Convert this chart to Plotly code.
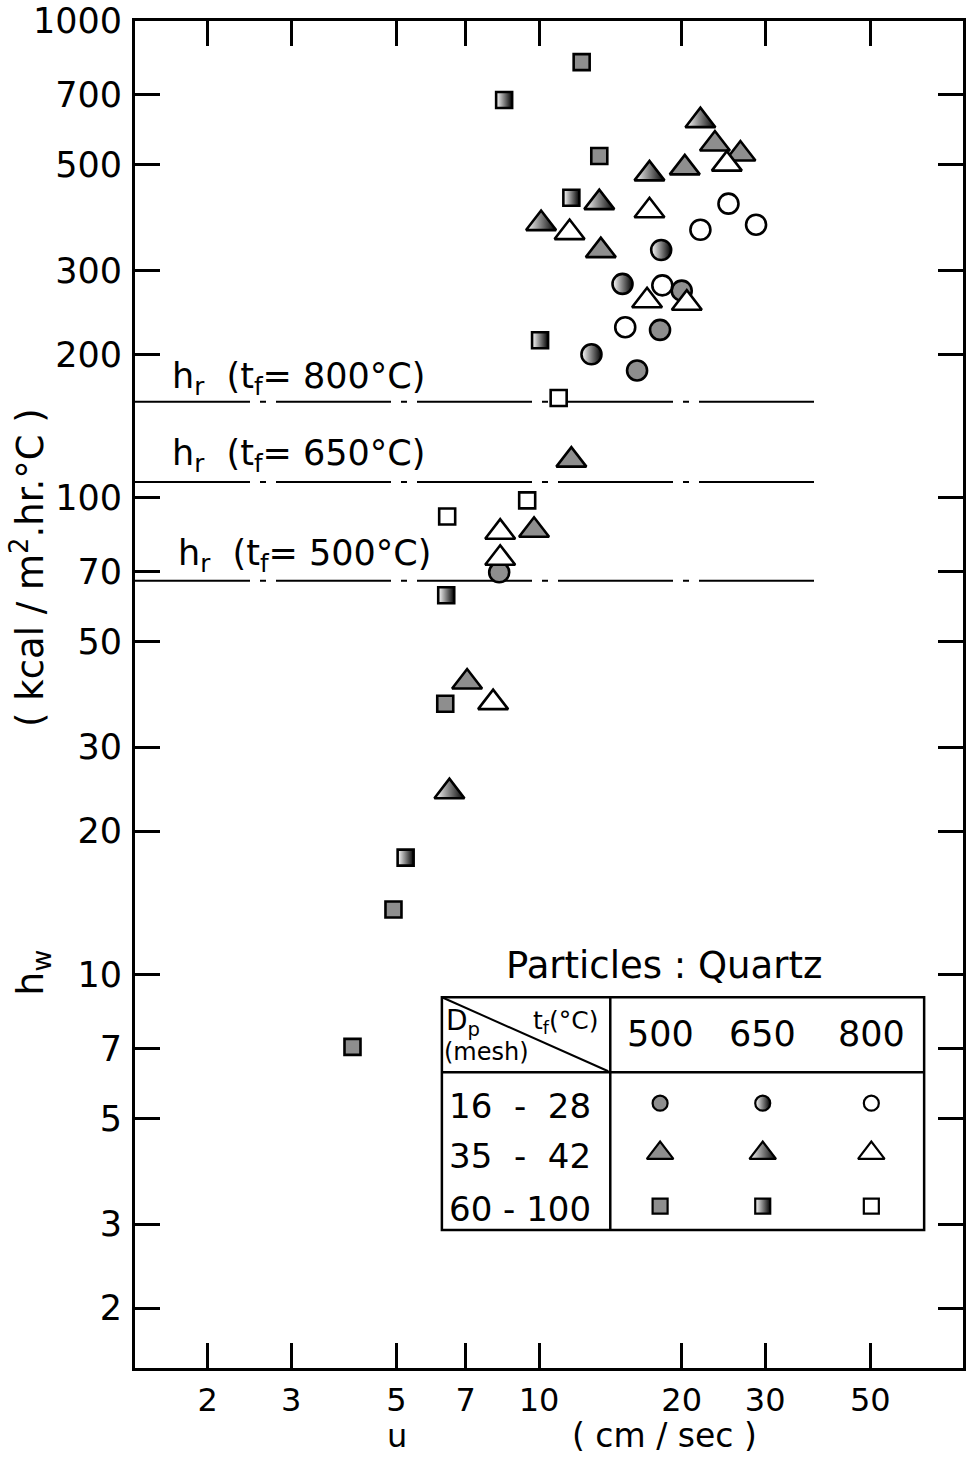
import plotly.graph_objects as go

# ---------------- data ----------------
# u [cm/sec], hw [kcal/m2.hr.C]
# 16-28 mesh (circles)
c500_u = [20.0, 18.0, 16.1, 8.24]
c500_h = [272, 225, 185, 69.8]
c650_u = [18.1, 15.0, 12.9]
c650_h = [331, 281, 200]
c800_u = [25.1, 28.7, 21.9, 18.2, 15.2]
c800_h = [414, 374, 365, 279, 228]
# 35-42 mesh (triangles)
t500_u = [23.5, 26.6, 20.3, 13.5, 11.7, 9.76, 7.05]
t500_h = [552, 526, 492, 330, 120, 85.5, 41.1]
t650_u = [21.9, 17.1, 13.4, 10.1, 6.47]
t650_h = [618, 478, 416, 376, 24.2]
t800_u = [24.9, 17.1, 11.6, 16.9, 20.5, 8.28, 8.28, 8.0]
t800_h = [501, 400, 360, 259, 256, 84.7, 74.7, 37.2]
# 60-100 mesh (squares)
s500_u = [12.3, 13.4, 6.34, 4.93, 4.04]
s500_h = [820, 521, 37.0, 13.7, 7.06]
s650_u = [8.44, 11.7, 10.05, 6.37, 5.23]
s650_h = [683, 426, 214, 62.5, 17.6]
s800_u = [11.0, 9.44, 6.40]
s800_h = [162, 98.8, 91.4]

# radiative coefficients h_r
hr_temps = ["800", "650", "500"]
hr_values = [159, 108, 67]
hr_u_end = 38.7

x_ticks = [2, 3, 5, 7, 10, 20, 30, 50]
y_ticks = [2, 3, 5, 7, 10, 20, 30, 50, 70, 100, 200, 300, 500, 700, 1000]

temps = ["500", "650", "800"]
sizes = ["16\u00a0\u00a0-\u00a0\u00a028", "35\u00a0\u00a0-\u00a0\u00a042", "60\u00a0-\u00a0100"]

# ---------------- layout geometry ----------------
W, H = 967, 1460
L, R, T, B = 135, 966, 20, 1368
X_RANGE = [0.1475, 1.8945]
Y_RANGE = [0.1753, 3.0]


def px(x):
    return (x - L) / (R - L)


def py(y):
    return (B - y) / (B - T)


FONT = "DejaVu Sans"
GRAY = "#8e8e8e"
HALF = "#000000"

style = {
    "500": dict(color=GRAY),
    "650": dict(color="white", gradient=dict(type="horizontal", color=HALF)),
    "800": dict(color="white"),
}

fig = go.Figure()

# h_r dash-dot lines
for v in hr_values:
    fig.add_trace(go.Scatter(
        x=[10 ** X_RANGE[0], hr_u_end], y=[v, v], mode="lines",
        line=dict(color="black", width=2, dash="115px,10px,6px,10px"),
        showlegend=False, hoverinfo="skip"))

series = [
    ("circle", 20, "500", c500_u, c500_h),
    ("circle", 20, "650", c650_u, c650_h),
    ("circle", 20, "800", c800_u, c800_h),
    ("triangle-up", 26, "500", t500_u, t500_h),
    ("triangle-up", 26, "650", t650_u, t650_h),
    ("triangle-up", 26, "800", t800_u, t800_h),
    ("square", 16, "500", s500_u, s500_h),
    ("square", 16, "650", s650_u, s650_h),
    ("square", 16, "800", s800_u, s800_h),
]
for sym, sz, tmp, u, h in series:
    m = dict(symbol=sym, size=sz, line=dict(color="black", width=2.6))
    m.update(style[tmp])
    fig.add_trace(go.Scatter(x=u, y=h, mode="markers", marker=m,
                             showlegend=False, name=f"{tmp}"))

# ---------------- legend table ----------------
col_px = [662, 765, 874]
row_px = [1103, 1153, 1206]
leg_sym = [("circle", 15), ("triangle-up", 23), ("square", 15)]
for ri, (sym, sz) in enumerate(leg_sym):
    for ci, tmp in enumerate(temps):
        m = dict(symbol=sym, size=sz, line=dict(color="black", width=2.2))
        m.update(style[tmp])
        fig.add_trace(go.Scatter(x=[px(col_px[ci])], y=[py(row_px[ri])],
                                 mode="markers", marker=m, xaxis="x2", yaxis="y2",
                                 showlegend=False, hoverinfo="skip"))

tbl = dict(x0=443, x1=927, y0=997, y1=1230, xdiv=612, ydiv=1072)
shapes = [
    dict(type="rect", xref="paper", yref="paper", x0=px(tbl["x0"]), x1=px(tbl["x1"]),
         y0=py(tbl["y1"]), y1=py(tbl["y0"]), line=dict(color="black", width=2.5)),
    dict(type="line", xref="paper", yref="paper", x0=px(tbl["xdiv"]), x1=px(tbl["xdiv"]),
         y0=py(tbl["y1"]), y1=py(tbl["y0"]), line=dict(color="black", width=2.5)),
    dict(type="line", xref="paper", yref="paper", x0=px(tbl["x0"]), x1=px(tbl["x1"]),
         y0=py(tbl["ydiv"]), y1=py(tbl["ydiv"]), line=dict(color="black", width=2.5)),
    dict(type="line", xref="paper", yref="paper", x0=px(tbl["x0"]), x1=px(tbl["xdiv"] - 2),
         y0=py(tbl["y0"]), y1=py(tbl["ydiv"] - 1), line=dict(color="black", width=2)),
]

ann = []


def text(x, y, s, size, xanchor="center", angle=0):
    ann.append(dict(x=px(x), y=py(y), xref="paper", yref="paper", text=s,
                    showarrow=False, xanchor=xanchor, yanchor="middle",
                    textangle=angle, font=dict(family=FONT, size=size, color="black")))


text(666, 965, "Particles : Quartz", 37)
text(445, 1022, "D<sub>p</sub>", 28, xanchor="left")
text(567, 1022, "t<sub>f</sub>(°C)", 25)
text(443, 1052, "(mesh)", 24, xanchor="left")
for ci, tmp in enumerate(temps):
    text(col_px[ci], 1034, tmp, 35)
for ri, s in enumerate(sizes):
    text(521, row_px[ri] + 3, s, 34)

# h_r labels
text(170, 378, "h<sub>r</sub>  (t<sub>f</sub>= 800°C)", 35, xanchor="left")
text(170, 455, "h<sub>r</sub>  (t<sub>f</sub>= 650°C)", 35, xanchor="left")
text(176, 555, "h<sub>r</sub>  (t<sub>f</sub>= 500°C)", 35, xanchor="left")

# axis titles
text(398, 1436, "u", 32)
text(666, 1436, "( cm / sec )", 33)
text(32, 972, "h<sub>w</sub>", 38, angle=-90)
text(28, 567, "( kcal / m<sup>2</sup>.hr.°C )", 37, angle=-90)

axis_common = dict(type="log", showgrid=False, zeroline=False, showline=True,
                   linecolor="black", linewidth=3, ticks="inside", ticklen=25,
                   tickwidth=2.5, tickcolor="black", mirror="ticks")

fig.update_layout(
    width=W, height=H,
    margin=dict(l=L, r=W - R, t=T, b=H - B),
    paper_bgcolor="white", plot_bgcolor="white",
    xaxis=dict(range=X_RANGE, tickvals=x_ticks, ticktext=[str(v) for v in x_ticks],
               ticklabelstandoff=2,
               tickfont=dict(family=FONT, size=32, color="black"), **axis_common),
    yaxis=dict(range=Y_RANGE, tickvals=y_ticks, ticktext=[str(v) for v in y_ticks],
               ticklabelstandoff=3,
               tickfont=dict(family=FONT, size=35, color="black"), **axis_common),
    xaxis2=dict(overlaying="x", range=[0, 1], visible=False),
    yaxis2=dict(overlaying="y", range=[0, 1], visible=False),
    shapes=shapes, annotations=ann, showlegend=False,
)

fig.write_html("out.html")
